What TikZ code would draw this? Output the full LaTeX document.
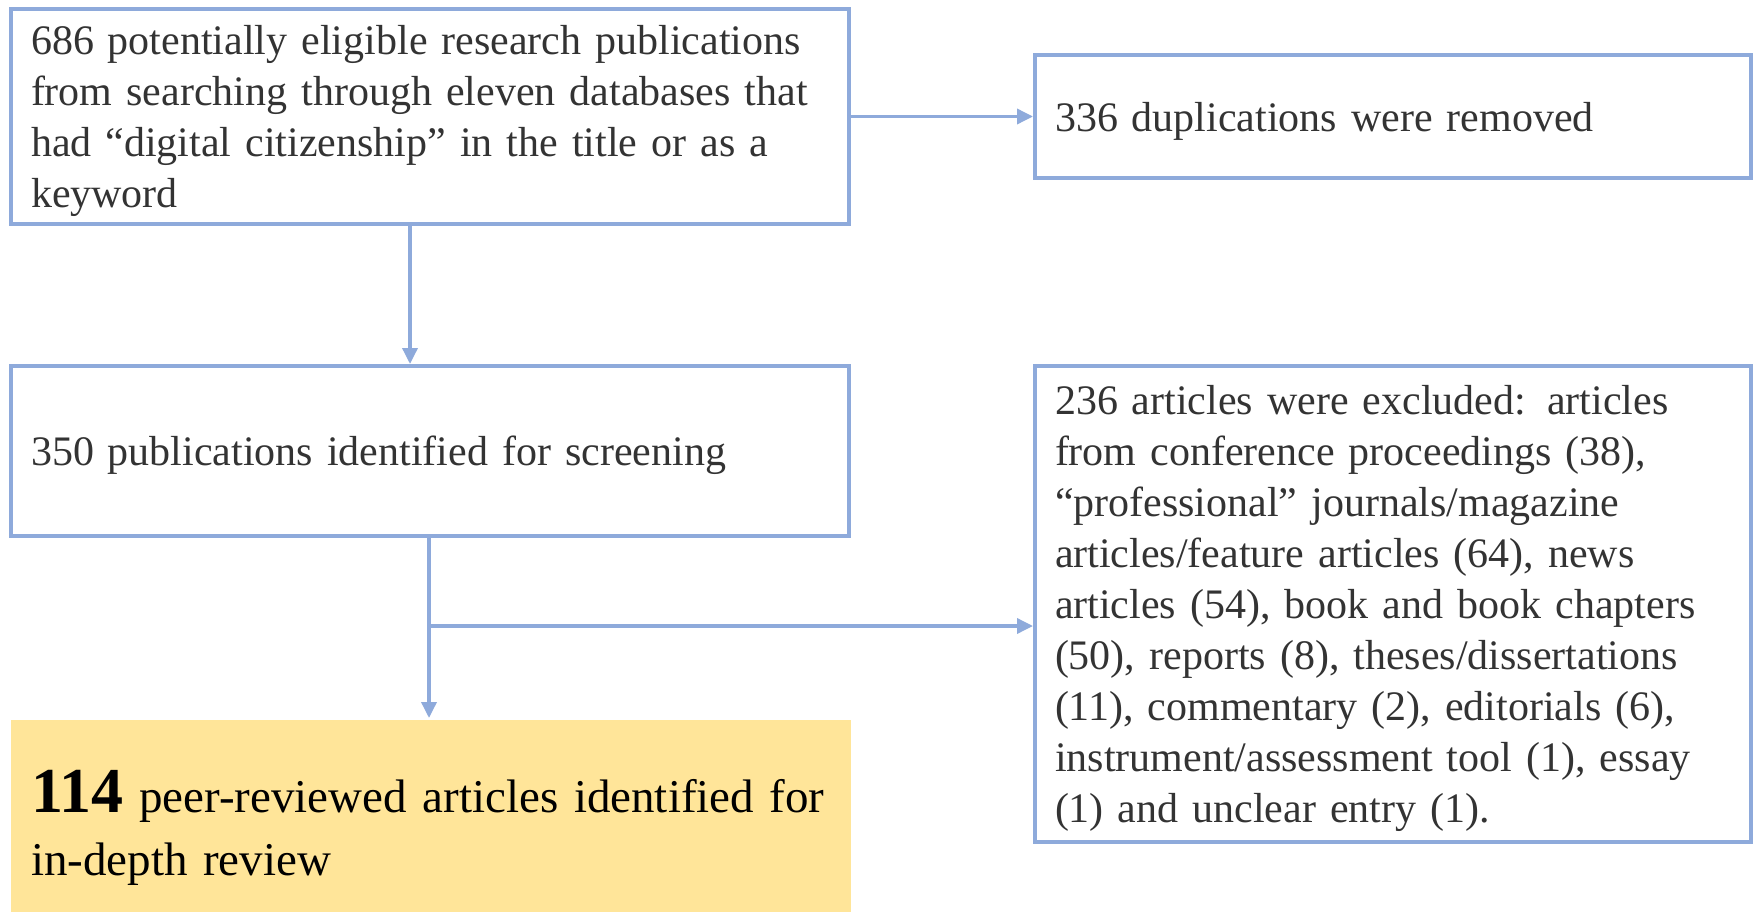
\documentclass[tikz,border=0pt]{standalone}
\usepackage{fontspec}
\setmainfont{Liberation Serif}
\usetikzlibrary{arrows.meta}
\definecolor{bord}{HTML}{8EAADB}
\definecolor{yel}{HTML}{FFE599}
\definecolor{txt}{HTML}{333333}
\begin{document}
\begin{tikzpicture}[x=1pt,y=-1pt,
  frame/.style={draw=bord, line width=4pt, anchor=north west, inner sep=0pt},
  label/.style={text=txt, align=left, inner sep=0pt, font=\fontsize{42}{51}\selectfont},
  conn/.style={draw=bord, line width=3.5pt, -{Triangle[length=16pt,width=15pt]}}]
\useasboundingbox (0,0) rectangle (1756,912);
% frames
\node[frame, minimum width=838pt, minimum height=215pt] (b1) at (9,7) {};
\node[frame, minimum width=716pt, minimum height=123pt] (b2) at (1033,53) {};
\node[frame, minimum width=838pt, minimum height=170pt] (b3) at (9,364) {};
\node[frame, minimum width=716pt, minimum height=476pt] (b5) at (1033,364) {};
\node[frame, draw=none, fill=yel, minimum width=840pt, minimum height=214pt] (b4) at (9,718) {};
% texts
\node[label, text width=798pt] (t1) at ([yshift=-4.5pt]b1.center)
  {686 potentially eligible research publications\\
   from searching through eleven databases that\\
   had “digital citizenship” in the title or as a\\
   keyword};
\node[label, text width=676pt] (t2) at ([yshift=-4.5pt]b2.center)
  {336 duplications were removed};
\node[label, text width=798pt] (t3) at ([yshift=-4.5pt]b3.center)
  {350 publications identified for screening};
\node[label, text width=676pt] (t5) at ([yshift=-4.5pt]b5.center)
  {236 articles were excluded: articles\\
   from conference proceedings (38),\\
   “professional” journals/magazine\\
   articles/feature articles (64), news\\
   articles (54), book and book chapters\\
   (50), reports (8), theses/dissertations\\
   (11), commentary (2), editorials (6),\\
   instrument/assessment tool (1), essay\\
   (1) and unclear entry (1).};
\node[label, text=black, text width=800pt, font=\fontsize{47}{63}\selectfont] (t4)
  at ([yshift=-1pt]b4.center)
  {{\bfseries\fontsize{64}{63}\selectfont 114} peer-reviewed articles identified for\\
   in-depth review};
% connectors
\draw[conn] ([xshift=401pt]b1.south west) -- ([xshift=401pt]b3.north west);
\draw[conn] (b1.east) -- (b2.west);
\draw[conn] ([xshift=420pt]b3.south west) -- ([xshift=420pt]b4.north west);
\coordinate (j) at (429,626);
\draw[conn] (j) -- (j -| b5.west);
\end{tikzpicture}
\end{document}
